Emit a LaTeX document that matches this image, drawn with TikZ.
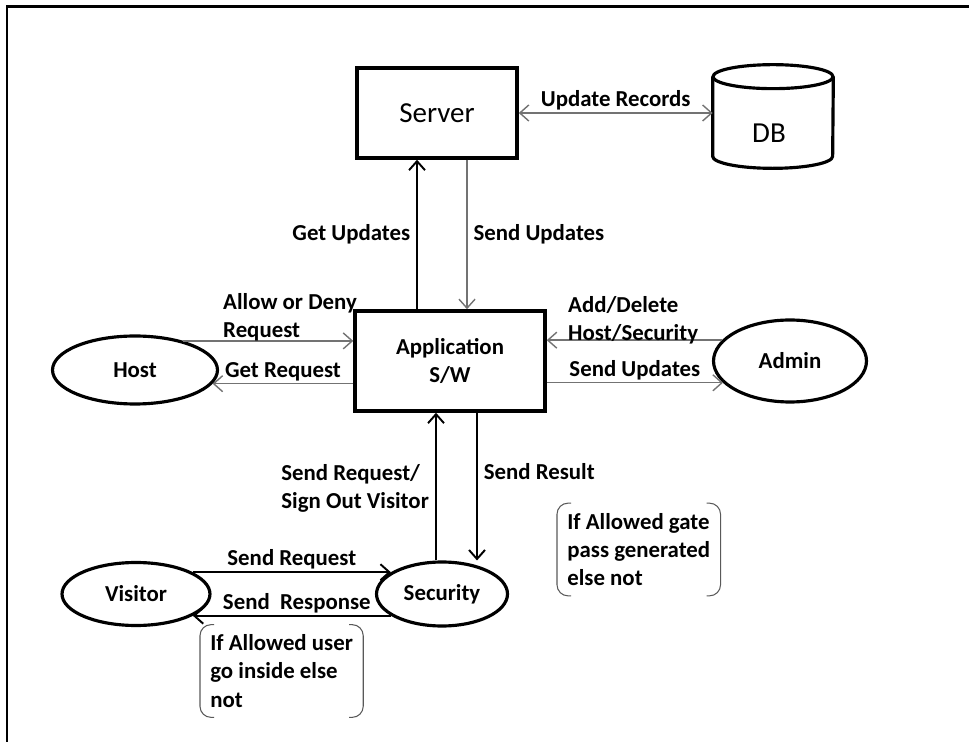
\documentclass[tikz,border=0pt]{standalone}
\usepackage{fontspec}
\setmainfont{Carlito}
\usetikzlibrary{shapes.geometric,arrows.meta,calc}

\begin{document}
\begin{tikzpicture}[x=0.02cm, y=-0.02cm,
    font=\fontsize{13}{16}\selectfont\bfseries,
    >={Straight Barb[length=0.18cm,width=0.32cm]},
    box/.style={draw, line width=2pt, inner sep=0pt},
    oval/.style={draw, ellipse, line width=1.8pt, inner sep=0pt},
    graylink/.style={draw=black!55, line width=0.8pt},
    blacklink/.style={draw=black, line width=1.1pt},
    linelbl/.style={above, inner sep=1pt},
    bigtext/.style={font=\fontsize{16.5}{19}\selectfont},
    note/.style={align=left, inner xsep=0.2cm, minimum height=1.84cm},
    bracket/.style={draw=black!65, line width=0.6pt, rounded corners=0.22cm}]

    % Page size and frame
    \useasboundingbox (0,0) rectangle (969,742);
    \draw[line width=1.7pt] (969,7) -- (7,7) -- (7,742);

    % Server and database
    \node[box, bigtext, minimum width=3.2cm, minimum height=1.8cm] (server) at (437,113) {Server};
    \node[minimum width=2.4cm, minimum height=2.06cm, inner sep=0pt] (db) at (773,116.5) {};
    \draw[line width=1.8pt] ($(db.north)+(0,12)$) ellipse [x radius=1.2cm, y radius=0.24cm];
    \draw[line width=1.8pt] ($(db.north west)+(0,12)$) -- ($(db.south west)+(0,-12)$)
        arc [start angle=180, end angle=360, x radius=1.2cm, y radius=0.24cm]
        -- ($(db.north east)+(0,12)$);
    \node[bigtext] (dbname) at ($(db.center)+(-4,17)$) {DB};
    \draw[graylink, <->] (server.east) -- (server.east -| db.west)
        node[midway, linelbl] (recordslbl) {Update Records};

    % Application
    \node[box, align=center, minimum width=3.8cm, minimum height=2cm] (app) at (450,361) {Application\\S/W};

    % Server <-> application
    \coordinate (getup) at ($(app.north)+(-33,0)$);
    \coordinate (sendup) at ($(app.north)+(17,0)$);
    \draw[blacklink, ->] (getup) -- (getup |- server.south)
        node[midway, left] (getlbl) {Get Updates};
    \draw[graylink, ->] (sendup |- server.south) -- (sendup)
        node[midway, right] (sendlbl) {Send Updates};

    % Host
    \node[oval, minimum width=3.3cm, minimum height=1.36cm] (host) at (135,370) {Host};
    \draw[graylink, ->] (host.31) -- (host.31 -| app.west);
    \node[anchor=south west, align=left] (allowlbl) at (217,347) {Allow or Deny\\Request};
    \draw[graylink, ->] (app.west |- host.-10) -- (host.-10)
        node[midway, linelbl] (getreqlbl) {Get Request};

    % Admin
    \node[oval, minimum width=3.06cm, minimum height=1.64cm] (admin) at (790,361) {Admin};
    \draw[graylink, ->] (admin.163) -- (admin.163 -| app.east);
    \node[anchor=south west, align=left] (addlbl) at (562,350) {Add/Delete\\Host/Security};
    \draw[graylink, ->] (app.east |- admin.198) -- (admin.198)
        node[midway, linelbl] (updlbl) {Send Updates};

    % Security and visitor
    \node[oval, minimum width=2.62cm, minimum height=1.28cm] (security) at (442,594) {Security};
    \node[oval, minimum width=2.96cm, minimum height=1.26cm] (visitor) at (136,594) {Visitor};
    \coordinate (requp) at ($(app.south)+(-14,0)$);
    \coordinate (resdown) at ($(app.south)+(27,0)$);
    \draw[blacklink, ->] (security.north -| requp) -- (requp);
    \node[anchor=east, align=left] (signlbl) at (435,488) {Send Request/\\Sign Out Visitor};
    \draw[blacklink, ->] (resdown) -- (security.north -| resdown)
        node[pos=0.4, right] (resultlbl) {Send Result};
    \draw[blacklink, ->] (visitor.21) -- (security.157 |- visitor.21)
        node[midway, linelbl] (vreqlbl) {Send Request};
    \draw[blacklink, ->] (security.203) -- (visitor.-21 |- security.203)
        node[midway, linelbl, xshift=0.1cm] (vreslbl) {Send~ Response};

    % Notes
    \node[note, anchor=west] (usernote) at (200,671) {If Allowed user\\go inside else\\not};
    \draw[bracket] ($(usernote.north west)+(14,0)$) -- (usernote.north west)
        -- (usernote.south west) -- ($(usernote.south west)+(14,0)$);
    \draw[bracket] ($(usernote.north east)+(-14,0)$) -- (usernote.north east)
        -- (usernote.south east) -- ($(usernote.south east)+(-14,0)$);
    \node[note, anchor=west] (gatenote) at (557,549.5) {If Allowed gate\\pass generated\\else not};
    \draw[bracket] ($(gatenote.north west)+(14,0)$) -- (gatenote.north west)
        -- (gatenote.south west) -- ($(gatenote.south west)+(14,0)$);
    \draw[bracket] ($(gatenote.north east)+(-14,0)$) -- (gatenote.north east)
        -- (gatenote.south east) -- ($(gatenote.south east)+(-14,0)$);
\end{tikzpicture}
\end{document}
